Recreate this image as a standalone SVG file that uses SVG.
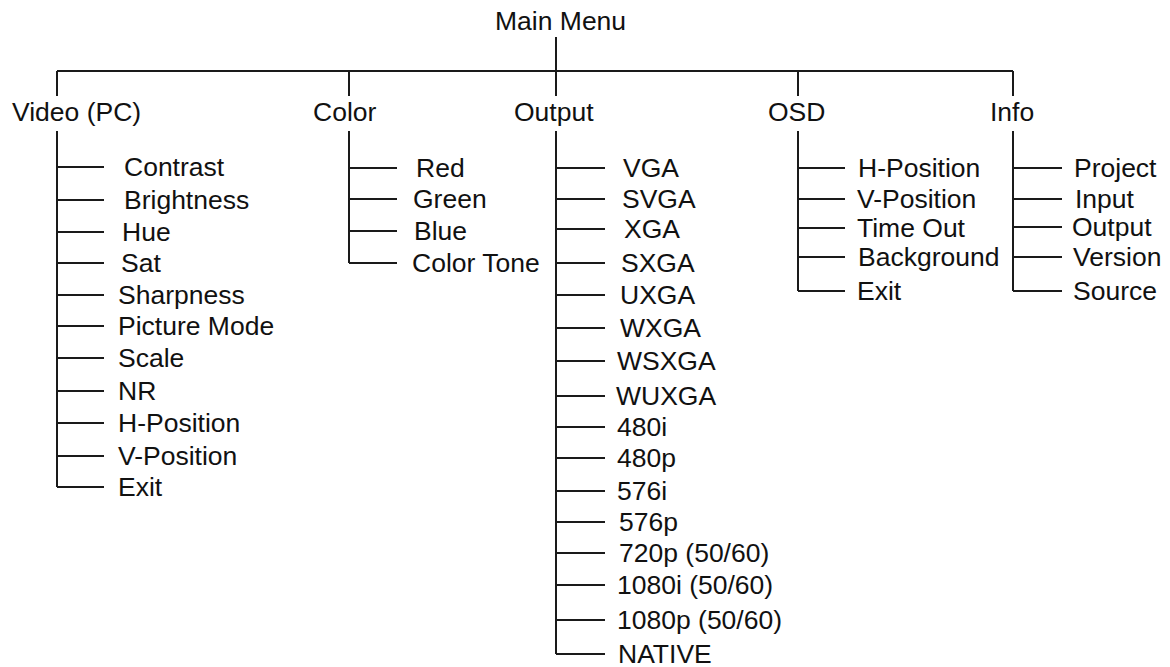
<svg xmlns="http://www.w3.org/2000/svg" width="1170" height="667" viewBox="0 0 1170 667">
<style>
text{font-family:"Liberation Sans",Arial,sans-serif;font-size:26.5px;fill:#111}
.c line,.c path{stroke:#1a1a1a;stroke-width:2;fill:none}
</style>
<rect width="1170" height="667" fill="#fff"/>
<g class="c" id="connectors">
<line x1="556" y1="37" x2="556" y2="96"/>
<line x1="57" y1="71" x2="1013" y2="71"/>
<line x1="57" y1="71" x2="57" y2="96"/>
<line x1="349" y1="71" x2="349" y2="96"/>
<line x1="798" y1="71" x2="798" y2="96"/>
<line x1="1013" y1="71" x2="1013" y2="96"/>
<path d="M57 131V487M57 167H104M57 200H104M57 232H104M57 263H104M57 295H104M57 326H104M57 358H104M57 391H104M57 423H104M57 456H104M57 487H104"/>
<path d="M349 131V263M349 168H397M349 199H397M349 231H397M349 263H397"/>
<path d="M556 131V654M556 168H605M556 199H605M556 229H605M556 263H605M556 295H605M556 328H605M556 361H605M556 396H605M556 427H605M556 458H605M556 491H605M556 522H605M556 553H605M556 585H605M556 620H605M556 654H605"/>
<path d="M798 131V291M798 168H845M798 199H845M798 228H845M798 257H845M798 291H845"/>
<path d="M1013 131V291M1013 168H1062M1013 199H1062M1013 227H1062M1013 257H1062M1013 291H1062"/>
</g>
<g id="main-menu"><text x="495" y="30">Main Menu</text></g>
<g id="video-pc">
<text x="12" y="121">Video (PC)</text>
<text x="124" y="176">Contrast</text>
<text x="124" y="209">Brightness</text>
<text x="122" y="241">Hue</text>
<text x="121" y="272">Sat</text>
<text x="118" y="304">Sharpness</text>
<text x="118" y="335">Picture Mode</text>
<text x="118" y="367">Scale</text>
<text x="118" y="400">NR</text>
<text x="118" y="432">H-Position</text>
<text x="118" y="465">V-Position</text>
<text x="118" y="496">Exit</text>
</g>
<g id="color">
<text x="313" y="121">Color</text>
<text x="416" y="177">Red</text>
<text x="413" y="208">Green</text>
<text x="414" y="240">Blue</text>
<text x="412" y="272">Color Tone</text>
</g>
<g id="output">
<text x="514" y="121">Output</text>
<text x="623" y="177">VGA</text>
<text x="622" y="208">SVGA</text>
<text x="624" y="238">XGA</text>
<text x="621" y="272">SXGA</text>
<text x="620" y="304">UXGA</text>
<text x="620" y="337">WXGA</text>
<text x="617" y="370">WSXGA</text>
<text x="616" y="405">WUXGA</text>
<text x="617" y="436">480i</text>
<text x="617" y="467">480p</text>
<text x="617" y="500">576i</text>
<text x="619" y="531">576p</text>
<text x="619" y="562">720p (50/60)</text>
<text x="617" y="594">1080i (50/60)</text>
<text x="617" y="629">1080p (50/60)</text>
<text x="618" y="663">NATIVE</text>
</g>
<g id="osd">
<text x="768" y="121">OSD</text>
<text x="858" y="177">H-Position</text>
<text x="857" y="208">V-Position</text>
<text x="857" y="237">Time Out</text>
<text x="858" y="266">Background</text>
<text x="857" y="300">Exit</text>
</g>
<g id="info">
<text x="990" y="121">Info</text>
<text x="1074" y="177">Project</text>
<text x="1075" y="208">Input</text>
<text x="1072" y="236">Output</text>
<text x="1073" y="266">Version</text>
<text x="1073" y="300">Source</text>
</g>
</svg>
